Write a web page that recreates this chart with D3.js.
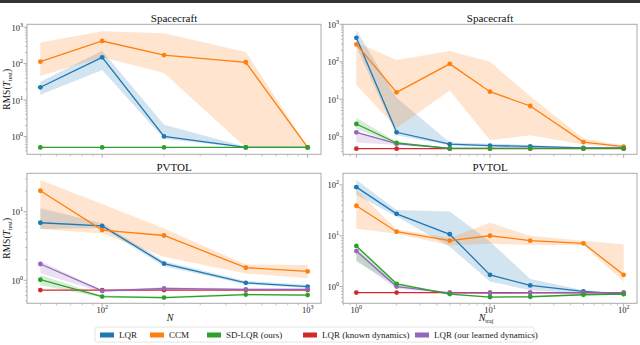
<!DOCTYPE html>
<html>
<head>
<meta charset="utf-8">
<script src="https://cdn.jsdelivr.net/npm/d3@7"></script>
<style>
  body { margin: 0; background: #fff; }
  svg { display: block; font-family: "Liberation Serif", "DejaVu Serif", serif; }
</style>
</head>
<body>
<svg id="chart" width="640" height="345"></svg>
<script>
// abscisses
var nSamples = [50, 100, 200, 500, 1000];
var nTraj = [1, 2, 5, 10, 20, 50, 100];

// Spacecraft / N
var scN_lqr    = [22.4, 149, 1.0, 0.5, 0.5];
var scN_lqrLo  = [14, 67, 0.87, 0.48, 0.48];
var scN_lqrHi  = [32, 224, 2.1, 0.52, 0.51];
var scN_ccm    = [113, 418, 172, 109, 0.5];
var scN_ccmLo  = [46, 150, 55, 0.5, 0.49];
var scN_ccmHi  = [380, 780, 680, 210, 0.51];
var scN_sd     = [0.5, 0.5, 0.5, 0.5, 0.5];
var scN_sdLo   = [0.49, 0.49, 0.49, 0.49, 0.49];
var scN_sdHi   = [0.51, 0.51, 0.51, 0.51, 0.51];

// Spacecraft / N_traj
var scT_lqr    = [436, 1.31, 0.63, 0.58, 0.55, 0.5, 0.5];
var scT_lqrLo  = [250, 1.1, 0.58, 0.54, 0.5, 0.48, 0.48];
var scT_lqrHi  = [700, 11, 0.7, 0.65, 0.6, 0.52, 0.52];
var scT_ccm    = [290, 15.3, 88, 15.9, 6.6, 0.72, 0.54];
var scT_ccmLo  = [24, 1.7, 17, 0.8, 1.1, 0.62, 0.5];
var scT_ccmHi  = [330, 112, 194, 100, 12, 0.9, 0.58];
var scT_sd     = [2.18, 0.68, 0.49, 0.49, 0.49, 0.49, 0.49];
var scT_sdLo   = [1.6, 0.63, 0.48, 0.48, 0.48, 0.48, 0.48];
var scT_sdHi   = [3.2, 0.73, 0.5, 0.5, 0.5, 0.5, 0.5];
var scT_known  = [0.48, 0.48, 0.48, 0.48, 0.48, 0.48, 0.48];
var scT_learn  = [1.31, 0.65, 0.49, 0.49, 0.49, 0.49, 0.49];
var scT_learnLo = [0.7, 0.6, 0.48, 0.48, 0.48, 0.48, 0.48];
var scT_learnHi = [1.4, 0.68, 0.5, 0.5, 0.5, 0.5, 0.5];

// PVTOL / N
var pvN_lqr    = [6.9, 6.2, 1.75, 0.92, 0.81];
var pvN_lqrLo  = [5.6, 5.8, 1.6, 0.88, 0.77];
var pvN_lqrHi  = [11.2, 6.8, 1.9, 0.98, 0.86];
var pvN_ccm    = [20.2, 5.4, 4.5, 1.53, 1.35];
var pvN_ccmLo  = [5.6, 4.8, 2.2, 1.26, 1.07];
var pvN_ccmHi  = [29, 13, 5.7, 1.7, 1.67];
var pvN_sd     = [1.02, 0.58, 0.56, 0.62, 0.61];
var pvN_sdLo   = [0.85, 0.56, 0.54, 0.6, 0.59];
var pvN_sdHi   = [1.2, 0.6, 0.58, 0.64, 0.63];
var pvN_known  = [0.72, 0.72, 0.72, 0.72, 0.72];
var pvN_learn  = [1.73, 0.70, 0.76, 0.74, 0.74];
var pvN_learnLo = [1.27, 0.67, 0.73, 0.72, 0.72];
var pvN_learnHi = [1.9, 0.73, 0.79, 0.76, 0.76];

// PVTOL / N_traj
var pvT_lqr    = [90.6, 27, 10.7, 1.7, 1.05, 0.8, 0.71];
var pvT_lqrLo  = [64, 24, 6.1, 1.25, 0.85, 0.75, 0.68];
var pvT_lqrHi  = [126, 32, 30, 7.7, 1.4, 0.85, 0.74];
var pvT_ccm    = [39, 12, 8.0, 10, 8.0, 7.1, 1.7];
var pvT_ccmLo  = [13.7, 11, 6.5, 7, 6.6, 6.5, 1.25];
var pvT_ccmHi  = [80, 13.5, 9, 18, 10, 8, 6.8];
var pvT_sd     = [6.3, 1.13, 0.71, 0.62, 0.63, 0.69, 0.71];
var pvT_sdLo   = [3.1, 1.05, 0.69, 0.6, 0.61, 0.67, 0.69];
var pvT_sdHi   = [6.6, 1.2, 0.73, 0.64, 0.65, 0.71, 0.73];
var pvT_known  = [0.76, 0.76, 0.76, 0.76, 0.76, 0.76, 0.76];
var pvT_learn  = [5.0, 1.0, 0.75, 0.74, 0.75, 0.75, 0.75];
var pvT_learnLo = [3.3, 0.9, 0.73, 0.72, 0.73, 0.73, 0.73];
var pvT_learnHi = [5.5, 1.05, 0.77, 0.76, 0.77, 0.77, 0.77];

var legendNames = ["LQR", "CCM", "SD-LQR (ours)", "LQR (known dynamics)", "LQR (our learned dynamics)"];
var colors = ["#1f77b4", "#ff7f0e", "#2ca02c", "#d62728", "#9467bd"];

var svg = d3.select("#chart");

// bandeau sombre en haut (capture)
svg.append("rect").attr("x", 0).attr("y", 0).attr("width", 640).attr("height", 3).attr("fill", "#333");

// description des 4 panneaux
var panels = [
  { title: "Spacecraft", x: [27, 321], y: [24.3, 154.3], xd: [Math.pow(10, 1.634), Math.pow(10, 3.065)],
    yd: [Math.pow(10, -0.49), Math.pow(10, 3.08)], xs: nSamples, xlab: false, ylab: true,
    series: [
      [0, scN_lqr, scN_lqrLo, scN_lqrHi],
      [1, scN_ccm, scN_ccmLo, scN_ccmHi],
      [2, scN_sd, scN_sdLo, scN_sdHi]
    ] },
  { title: "Spacecraft", x: [343, 637], y: [24.3, 154.3], xd: [Math.pow(10, -0.1), Math.pow(10, 2.1)],
    yd: [Math.pow(10, -0.47), Math.pow(10, 3.0)], xs: nTraj, xlab: false, ylab: false,
    series: [
      [0, scT_lqr, scT_lqrLo, scT_lqrHi],
      [1, scT_ccm, scT_ccmLo, scT_ccmHi],
      [3, scT_known, scT_known, scT_known],
      [4, scT_learn, scT_learnLo, scT_learnHi],
      [2, scT_sd, scT_sdLo, scT_sdHi]
    ] },
  { title: "PVTOL", x: [27, 321], y: [173.3, 303.3], xd: [Math.pow(10, 1.634), Math.pow(10, 3.065)],
    yd: [Math.pow(10, -0.335), Math.pow(10, 1.56)], xs: nSamples, xlab: "N", ylab: true,
    series: [
      [0, pvN_lqr, pvN_lqrLo, pvN_lqrHi],
      [1, pvN_ccm, pvN_ccmLo, pvN_ccmHi],
      [3, pvN_known, pvN_known, pvN_known],
      [4, pvN_learn, pvN_learnLo, pvN_learnHi],
      [2, pvN_sd, pvN_sdLo, pvN_sdHi]
    ] },
  { title: "PVTOL", x: [343, 637], y: [173.3, 303.3], xd: [Math.pow(10, -0.1), Math.pow(10, 2.1)],
    yd: [Math.pow(10, -0.33), Math.pow(10, 2.23)], xs: nTraj, xlab: "Ntraj", ylab: false,
    series: [
      [0, pvT_lqr, pvT_lqrLo, pvT_lqrHi],
      [1, pvT_ccm, pvT_ccmLo, pvT_ccmHi],
      [3, pvT_known, pvT_known, pvT_known],
      [4, pvT_learn, pvT_learnLo, pvT_learnHi],
      [2, pvT_sd, pvT_sdLo, pvT_sdHi]
    ] }
];

// étiquette 10^k avec exposant
function powLabel(sel, k) {
  sel.append("tspan").text("10");
  sel.append("tspan").attr("dy", -4).attr("font-size", 6).text(k);
}

panels.forEach(function(p, pi) {
  var xScale = d3.scaleLog().domain(p.xd).range(p.x);
  var yScale = d3.scaleLog().domain(p.yd).range([p.y[1], p.y[0]]);
  var g = svg.append("g");

  var clipId = "clip" + pi;
  g.append("clipPath").attr("id", clipId).append("rect")
    .attr("x", p.x[0]).attr("y", p.y[0]).attr("width", p.x[1] - p.x[0]).attr("height", p.y[1] - p.y[0]);

  // graduations x
  var xTicks = [], xMinor = [];
  for (var e = Math.floor(Math.log10(p.xd[0])); e <= Math.floor(Math.log10(p.xd[1])); e++) {
    for (var m = 1; m < 10; m++) {
      var v = m * Math.pow(10, e);
      if (v < p.xd[0] || v > p.xd[1]) continue;
      if (m == 1) xTicks.push(e); else xMinor.push(v);
    }
  }
  xMinor.forEach(function(v) {
    g.append("line").attr("x1", xScale(v)).attr("x2", xScale(v))
      .attr("y1", p.y[1]).attr("y2", p.y[1] + 2).attr("stroke", "#999").attr("stroke-width", 0.6);
  });
  xTicks.forEach(function(e) {
    var xx = xScale(Math.pow(10, e));
    g.append("line").attr("x1", xx).attr("x2", xx)
      .attr("y1", p.y[1]).attr("y2", p.y[1] + 3.5).attr("stroke", "#999").attr("stroke-width", 0.8);
    if (p.xlab) {
      var t = g.append("text").attr("x", xx).attr("y", p.y[1] + 9.5)
        .attr("text-anchor", "middle").attr("font-size", 8.5).attr("fill", "#222");
      powLabel(t, e);
    }
  });

  // graduations y
  var yTicks = [], yMinor = [];
  for (var e2 = Math.floor(Math.log10(p.yd[0])); e2 <= Math.floor(Math.log10(p.yd[1])); e2++) {
    for (var m2 = 1; m2 < 10; m2++) {
      var v2 = m2 * Math.pow(10, e2);
      if (v2 < p.yd[0] || v2 > p.yd[1] * 1.001) continue;
      if (m2 == 1) yTicks.push(e2); else yMinor.push(v2);
    }
  }
  yMinor.forEach(function(v) {
    g.append("line").attr("x1", p.x[0] - 2).attr("x2", p.x[0])
      .attr("y1", yScale(v)).attr("y2", yScale(v)).attr("stroke", "#999").attr("stroke-width", 0.6);
  });
  yTicks.forEach(function(e) {
    var yy = yScale(Math.pow(10, e));
    g.append("line").attr("x1", p.x[0] - 3.5).attr("x2", p.x[0])
      .attr("y1", yy).attr("y2", yy).attr("stroke", "#999").attr("stroke-width", 0.8);
    var t = g.append("text").attr("x", p.x[0] - 4).attr("y", yy + 3.5)
      .attr("text-anchor", "end").attr("font-size", 8.5).attr("fill", "#222");
    powLabel(t, e);
  });

  // courbes, bandes et marqueurs
  var plot = g.append("g").attr("clip-path", "url(#" + clipId + ")");
  var area = d3.area()
    .x(function(d) { return xScale(d[0]); })
    .y0(function(d) { return yScale(d[1]); })
    .y1(function(d) { return yScale(d[2]); });
  var line = d3.line()
    .x(function(d) { return xScale(d[0]); })
    .y(function(d) { return yScale(d[1]); });

  p.series.forEach(function(s) {
    var pts = p.xs.map(function(x, i) { return [x, s[2][i], s[3][i]]; });
    plot.append("path").datum(pts).attr("d", area)
      .attr("fill", colors[s[0]]).attr("fill-opacity", 0.2);
  });
  p.series.forEach(function(s) {
    var pts = p.xs.map(function(x, i) { return [x, s[1][i]]; });
    plot.append("path").datum(pts).attr("d", line)
      .attr("fill", "none").attr("stroke", colors[s[0]]).attr("stroke-width", 1.3);
    plot.selectAll(null).data(pts).enter().append("circle")
      .attr("cx", function(d) { return xScale(d[0]); })
      .attr("cy", function(d) { return yScale(d[1]); })
      .attr("r", 2.4).attr("fill", colors[s[0]]);
  });

  // cadre
  g.append("rect").attr("x", p.x[0]).attr("y", p.y[0])
    .attr("width", p.x[1] - p.x[0]).attr("height", p.y[1] - p.y[0])
    .attr("fill", "none").attr("stroke", "#aaa").attr("stroke-width", 1);

  // titre
  g.append("text").attr("x", (p.x[0] + p.x[1]) / 2).attr("y", p.y[0] - 2.5)
    .attr("text-anchor", "middle").attr("font-size", 11).attr("fill", "#111").text(p.title);

  // label ordonnée
  if (p.ylab) {
    var yl = g.append("text")
      .attr("transform", "translate(10," + ((p.y[0] + p.y[1]) / 2) + ") rotate(-90)")
      .attr("text-anchor", "middle").attr("font-size", 9.5).attr("fill", "#111");
    yl.append("tspan").text("RMS(");
    yl.append("tspan").attr("font-style", "italic").text("T");
    yl.append("tspan").attr("font-size", 6.5).attr("dy", 2).text("test");
    yl.append("tspan").attr("dy", -2).text(")");
  }

  // label abscisse
  if (p.xlab) {
    var xl = g.append("text").attr("x", (p.x[0] + p.x[1]) / 2 - 4).attr("y", 321)
      .attr("text-anchor", "middle").attr("font-size", 10).attr("fill", "#111");
    xl.append("tspan").attr("font-style", "italic").text("N");
    if (p.xlab == "Ntraj") xl.append("tspan").attr("font-size", 6).attr("dy", 2).text("traj");
  }
});

// légende
var legendX = [100, 150, 207, 303, 415];
var lg = svg.append("g");
lg.append("rect").attr("x", 95).attr("y", 327).attr("width", 439).attr("height", 15).attr("rx", 2)
  .attr("fill", "#fff").attr("stroke", "#ddd").attr("stroke-width", 0.8);
legendNames.forEach(function(name, i) {
  lg.append("rect").attr("x", legendX[i]).attr("y", 332.5).attr("width", 14).attr("height", 5)
    .attr("fill", colors[i]);
  lg.append("text").attr("x", legendX[i] + 19).attr("y", 338.2)
    .attr("font-size", 9).attr("fill", "#222").text(name);
});
</script>
</body>
</html>
